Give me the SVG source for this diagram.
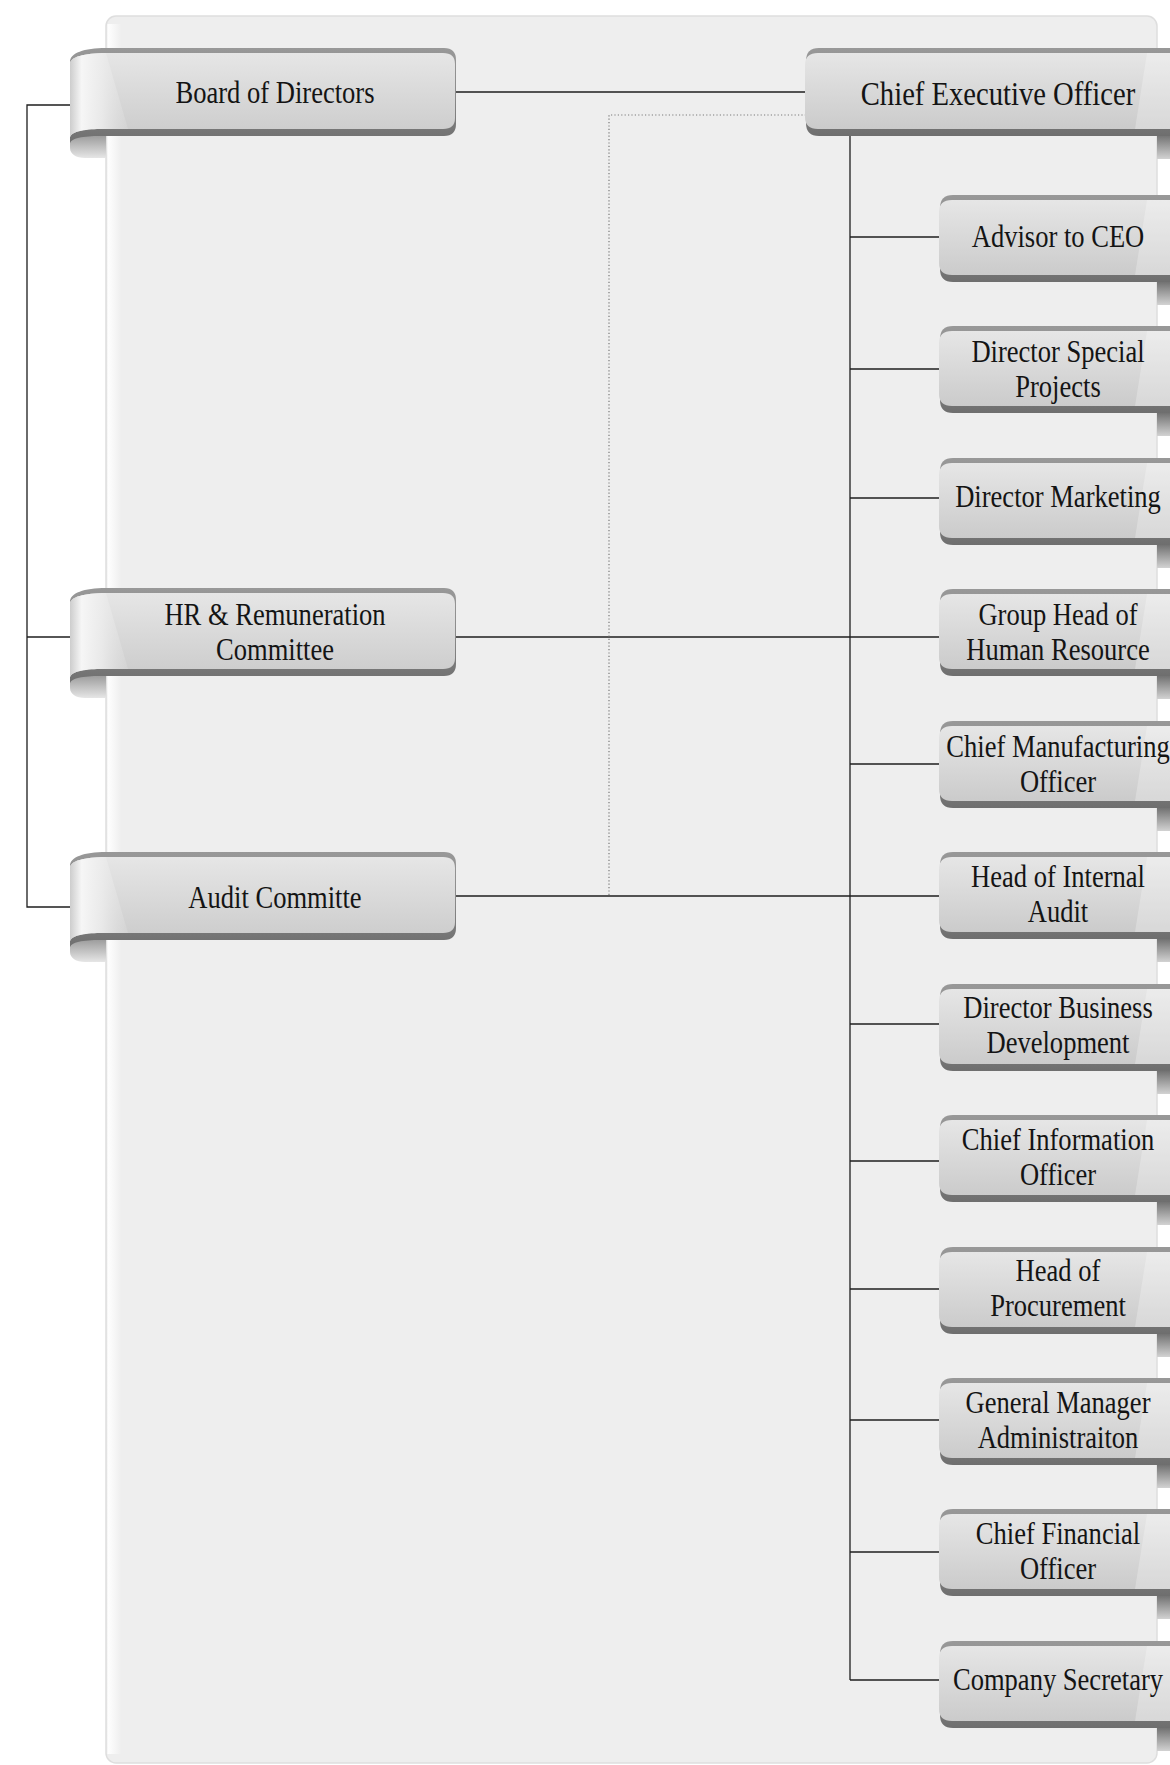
<svg xmlns="http://www.w3.org/2000/svg" width="1170" height="1765" viewBox="0 0 1170 1765">
<style>
.lbl{font-family:"Liberation Serif","Times New Roman",serif;font-size:32px;fill:#141414;text-anchor:middle}
.big{font-size:34.5px}
.ln{stroke:#1e1e1e;stroke-width:1.3;fill:none}
.dot{stroke:#7a7a7a;stroke-width:1.2;stroke-dasharray:1.2 2.2;fill:none}
</style>
<defs>
<linearGradient id="rimG" x1="0" y1="0" x2="0" y2="1">
<stop offset="0" stop-color="#989898"/><stop offset="0.5" stop-color="#8a8a8a"/><stop offset="1" stop-color="#6e6e6e"/>
</linearGradient>
<linearGradient id="faceG" x1="0" y1="0" x2="0" y2="1">
<stop offset="0" stop-color="#e6e6e6"/><stop offset="1" stop-color="#cbcbcb"/>
</linearGradient>
<linearGradient id="curlR" x1="0" y1="0" x2="0" y2="1">
<stop offset="0" stop-color="#555"/><stop offset="1" stop-color="#d2d2d2"/>
</linearGradient>
<linearGradient id="curlL" x1="0" y1="0" x2="0" y2="1">
<stop offset="0" stop-color="#8a8a8a"/><stop offset="1" stop-color="#e6e6e6"/>
</linearGradient>
<linearGradient id="foldG" x1="0" y1="0" x2="1" y2="0">
<stop offset="0" stop-color="#cdcdcd"/><stop offset="0.2" stop-color="#f6f6f6"/><stop offset="0.55" stop-color="#ededed" stop-opacity="0.85"/><stop offset="1" stop-color="#e2e2e2" stop-opacity="0.25"/>
</linearGradient>
<linearGradient id="edgeG" x1="0" y1="0" x2="1" y2="0">
<stop offset="0" stop-color="#ffffff"/><stop offset="1" stop-color="#eeeeee"/>
</linearGradient>
<g id="ribL">
<path d="M36,82 C18,82 0,86 0,94 L0,100 C0,106 6,110 15,110 L36,110 Z" fill="url(#curlL)"/>
<path d="M0,14 C0,5 14,0 36,0 H374 Q386,0 386,12 V76 Q386,88 374,88 H30 C14,88 0,90 0,96 Z" fill="url(#rimG)"/>
<path d="M0,16 C0,9 14,5 36,5 H373 Q385,5 385,16 V70 Q385,81 373,81 H30 C14,81 0,84 0,90 Z" fill="url(#faceG)"/>
<path d="M0,16 C0,9 14,5 36,5 L58,81 H30 C14,81 0,84 0,90 Z" fill="url(#foldG)"/>
</g>
<g id="ribR">
<rect x="217" y="80" width="18" height="30" fill="url(#curlR)"/>
<path d="M0,13 Q0,0 13,0 H240 V87 H13 Q0,87 0,74 Z" fill="url(#rimG)"/>
<path d="M-1,17 Q-1,5 12,5 H240 V80 H12 Q-1,80 -1,68 Z" fill="url(#faceG)"/>
<path d="M207,5 H240 V80 H195 Z" fill="#ffffff" opacity="0.25"/>
</g>
<g id="ribCEO">
<rect x="351" y="80" width="18" height="31" fill="url(#curlR)"/>
<path d="M0,13 Q0,0 13,0 H374 V88 H13 Q0,88 0,75 Z" fill="url(#rimG)"/>
<path d="M-1,17 Q-1,5 12,5 H374 V81 H12 Q-1,81 -1,69 Z" fill="url(#faceG)"/>
<path d="M341,5 H374 V81 H329 Z" fill="#ffffff" opacity="0.25"/>
</g>
</defs>
<rect x="0" y="0" width="1170" height="1765" fill="#ffffff"/>
<g id="panel">
<rect x="106" y="16" width="1051" height="1747" rx="10" fill="#eeeeee" stroke="#dedede" stroke-width="1.5"/>
<rect x="107.5" y="24" width="14" height="1730" fill="url(#edgeG)"/>
</g>
<g id="connectors">
<polyline class="ln" points="70,105 27,105 27,907 70,907"/>
<line class="ln" x1="27" y1="637" x2="70" y2="637"/>
<line class="ln" x1="456" y1="92" x2="806" y2="92"/>
<line class="ln" x1="456" y1="637" x2="940" y2="637"/>
<line class="ln" x1="456" y1="896" x2="940" y2="896"/>
<polyline class="dot" points="806,115 609,115 609,896"/>
<line class="ln" x1="850" y1="136" x2="850" y2="1680"/>
<line class="ln" x1="850" y1="237" x2="940" y2="237"/>
<line class="ln" x1="850" y1="369" x2="940" y2="369"/>
<line class="ln" x1="850" y1="498" x2="940" y2="498"/>
<line class="ln" x1="850" y1="764" x2="940" y2="764"/>
<line class="ln" x1="850" y1="1024" x2="940" y2="1024"/>
<line class="ln" x1="850" y1="1161" x2="940" y2="1161"/>
<line class="ln" x1="850" y1="1289" x2="940" y2="1289"/>
<line class="ln" x1="850" y1="1420" x2="940" y2="1420"/>
<line class="ln" x1="850" y1="1552" x2="940" y2="1552"/>
<line class="ln" x1="850" y1="1680" x2="940" y2="1680"/>
</g>
<g id="node-board">
<use href="#ribL" x="70" y="48"/>
<text class="lbl" transform="translate(275,0) scale(0.83,1)"><tspan x="0" y="103">Board of Directors</tspan></text>
</g>
<g id="node-hr-committee">
<use href="#ribL" x="70" y="588"/>
<text class="lbl" transform="translate(275,0) scale(0.83,1)"><tspan x="0" y="625">HR &amp; Remuneration</tspan><tspan x="0" y="660">Committee</tspan></text>
</g>
<g id="node-audit-committee">
<use href="#ribL" x="70" y="852"/>
<text class="lbl" transform="translate(275,0) scale(0.83,1)"><tspan x="0" y="908">Audit Committe</tspan></text>
</g>
<g id="node-ceo">
<use href="#ribCEO" x="806" y="48"/>
<text class="lbl big" transform="translate(998,0) scale(0.83,1)"><tspan x="0" y="105">Chief Executive Officer</tspan></text>
</g>
<g id="node-advisor">
<use href="#ribR" x="940" y="195"/>
<text class="lbl" transform="translate(1058,0) scale(0.83,1)"><tspan x="0" y="247">Advisor to CEO</tspan></text>
</g>
<g id="node-dir-special-projects">
<use href="#ribR" x="940" y="326"/>
<text class="lbl" transform="translate(1058,0) scale(0.83,1)"><tspan x="0" y="362">Director Special</tspan><tspan x="0" y="397">Projects</tspan></text>
</g>
<g id="node-dir-marketing">
<use href="#ribR" x="940" y="458"/>
<text class="lbl" transform="translate(1058,0) scale(0.83,1)"><tspan x="0" y="507">Director Marketing</tspan></text>
</g>
<g id="node-group-head-hr">
<use href="#ribR" x="940" y="589"/>
<text class="lbl" transform="translate(1058,0) scale(0.83,1)"><tspan x="0" y="625">Group Head of</tspan><tspan x="0" y="660">Human Resource</tspan></text>
</g>
<g id="node-cmo">
<use href="#ribR" x="940" y="721"/>
<text class="lbl" transform="translate(1058,0) scale(0.83,1)"><tspan x="0" y="757">Chief Manufacturing</tspan><tspan x="0" y="792">Officer</tspan></text>
</g>
<g id="node-head-internal-audit">
<use href="#ribR" x="940" y="852"/>
<text class="lbl" transform="translate(1058,0) scale(0.83,1)"><tspan x="0" y="887">Head of Internal</tspan><tspan x="0" y="922">Audit</tspan></text>
</g>
<g id="node-dir-business-dev">
<use href="#ribR" x="940" y="984"/>
<text class="lbl" transform="translate(1058,0) scale(0.83,1)"><tspan x="0" y="1018">Director Business</tspan><tspan x="0" y="1053">Development</tspan></text>
</g>
<g id="node-cio">
<use href="#ribR" x="940" y="1115"/>
<text class="lbl" transform="translate(1058,0) scale(0.83,1)"><tspan x="0" y="1150">Chief Information</tspan><tspan x="0" y="1185">Officer</tspan></text>
</g>
<g id="node-head-procurement">
<use href="#ribR" x="940" y="1247"/>
<text class="lbl" transform="translate(1058,0) scale(0.83,1)"><tspan x="0" y="1281">Head of</tspan><tspan x="0" y="1316">Procurement</tspan></text>
</g>
<g id="node-gm-admin">
<use href="#ribR" x="940" y="1378"/>
<text class="lbl" transform="translate(1058,0) scale(0.83,1)"><tspan x="0" y="1413">General Manager</tspan><tspan x="0" y="1448">Administraiton</tspan></text>
</g>
<g id="node-cfo">
<use href="#ribR" x="940" y="1509"/>
<text class="lbl" transform="translate(1058,0) scale(0.83,1)"><tspan x="0" y="1544">Chief Financial</tspan><tspan x="0" y="1579">Officer</tspan></text>
</g>
<g id="node-company-secretary">
<use href="#ribR" x="940" y="1641"/>
<text class="lbl" transform="translate(1058,0) scale(0.83,1)"><tspan x="0" y="1690">Company Secretary</tspan></text>
</g>
</svg>
